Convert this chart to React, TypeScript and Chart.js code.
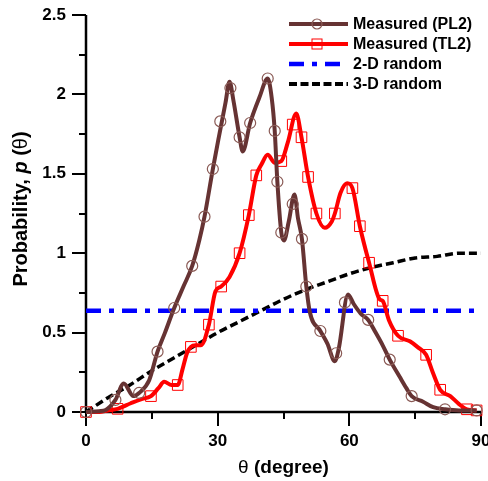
import React, { useEffect, useRef } from 'react';
import { Chart, registerables } from 'chart.js';

Chart.register(...registerables);

const FONT = 'Arial, "Liberation Sans", sans-serif';

// Measured (PL2) line
const pl2Theta = [0, 3, 4.5, 6.7, 8.6, 10.8, 12.1, 14.4, 16.3, 18, 20.1, 22.2, 24.2, 25.8, 27, 28.9, 30.4, 31.8, 32.7, 33.6, 35, 35.7, 37.4, 39.5, 41.4, 42.3, 43, 43.6, 44.5, 45.1, 46.2, 47.5, 48.3, 49.2, 50.2, 51, 53.4, 55, 56.7, 57.6, 59.7, 61, 62.6, 64.3, 66, 67.6, 69.2, 71.5, 73, 74.2, 76.8, 79.1, 81.8, 85, 89];
const pl2Prob = [0, 0.005, 0.013, 0.076, 0.18, 0.1, 0.12, 0.2, 0.38, 0.5, 0.655, 0.79, 0.92, 1.08, 1.23, 1.53, 1.75, 1.95, 2.08, 1.96, 1.73, 1.64, 1.82, 1.98, 2.1, 1.98, 1.77, 1.45, 1.13, 1.08, 1.2, 1.37, 1.22, 1.09, 0.79, 0.63, 0.51, 0.43, 0.32, 0.4, 0.74, 0.68, 0.62, 0.58, 0.5, 0.42, 0.33, 0.22, 0.15, 0.1, 0.065, 0.03, 0.017, 0.01, 0.01];
const pl2MarkTheta = [0, 6.7, 12.1, 16.3, 20.1, 24.2, 27, 28.9, 30.6, 32.9, 35, 37.4, 41.4, 43, 43.6, 44.5, 47.1, 49.2, 50.2, 53.4, 57, 59, 64.3, 69.2, 74.2, 81.8, 89];
const pl2MarkProb = [0, 0.076, 0.12, 0.38, 0.655, 0.92, 1.23, 1.53, 1.83, 2.04, 1.73, 1.82, 2.1, 1.77, 1.45, 1.13, 1.31, 1.09, 0.79, 0.51, 0.37, 0.69, 0.58, 0.33, 0.1, 0.017, 0.01];

// Measured (TL2) line
const tl2Theta = [0, 3, 5, 7.2, 10.2, 12.5, 14.8, 16.5, 17.8, 19.5, 20.9, 22, 23, 23.9, 25, 26.2, 28, 29.5, 30.8, 32.7, 35, 37.1, 38.8, 40, 41.4, 43, 44.5, 46, 47.9, 49.1, 50.6, 52.5, 54.4, 56, 56.7, 58, 59.5, 60.7, 62.4, 64.5, 66.9, 67.6, 69, 71.1, 73.8, 75.5, 77.5, 79, 80.7, 83, 85, 86.8, 89];
const tl2Prob = [0, 0, 0.01, 0.02, 0.055, 0.08, 0.1, 0.15, 0.19, 0.17, 0.17, 0.27, 0.37, 0.41, 0.42, 0.42, 0.55, 0.76, 0.79, 0.85, 1.0, 1.24, 1.49, 1.56, 1.62, 1.57, 1.58, 1.7, 1.88, 1.73, 1.48, 1.25, 1.16, 1.2, 1.25, 1.38, 1.44, 1.41, 1.17, 0.94, 0.71, 0.7, 0.58, 0.48, 0.445, 0.41, 0.36, 0.25, 0.14, 0.1, 0.05, 0.017, 0.01];
const tl2MarkTheta = [0, 7.2, 14.8, 20.9, 23.9, 28, 30.8, 35, 37.1, 38.8, 44.5, 47.1, 49.1, 50.6, 52.5, 56.7, 60.7, 62.4, 64.5, 67.6, 71.1, 77.5, 80.7, 86.8, 89];
const tl2MarkProb = [0, 0.02, 0.1, 0.17, 0.41, 0.55, 0.79, 1.0, 1.24, 1.49, 1.58, 1.81, 1.73, 1.48, 1.25, 1.25, 1.41, 1.17, 0.94, 0.7, 0.48, 0.36, 0.14, 0.017, 0.01];

// 2-D random
const rand2dTheta = [0, 88.5];
const rand2dProb = [0.637, 0.637];

// 3-D random
const rand3dTheta = [0, 5, 10, 15, 20, 25, 30, 35, 40, 45, 50, 55, 60, 65, 70, 75, 80, 85, 90];
const rand3dProb = [0, 0.09, 0.17, 0.26, 0.34, 0.42, 0.5, 0.57, 0.64, 0.71, 0.77, 0.82, 0.87, 0.91, 0.94, 0.97, 0.98, 1.0, 1.0];

const xTickValues = [0, 30, 60, 90];
const xTickLabels = ['0', '30', '60', '90'];
const xMinorValues = [15, 45, 75];
const yTickValues = [0, 0.5, 1, 1.5, 2, 2.5];
const yTickLabels = ['0', '0.5', '1', '1.5', '2', '2.5'];
const yMinorValues = [0.25, 0.75, 1.25, 1.75, 2.25];

const legendLabels = ['Measured (PL2)', 'Measured (TL2)', '2-D random', '3-D random'];

const BROWN = '#663333';
const BROWN_MARK = '#8a5a55';
const RED = '#ff0000';
const BLUE = '#0000ff';

const pts = (xs: number[], ys: number[]) => xs.map((x, i) => ({ x, y: ys[i] }));

const zeroPad = (s: any) => {
  s.paddingLeft = 0;
  s.paddingRight = 0;
  s.paddingTop = 0;
  s.paddingBottom = 0;
};

export default function App() {
  const ref = useRef<HTMLCanvasElement>(null);

  useEffect(() => {
    document.body.style.margin = '0';
    const canvas = ref.current!;
    const decor = {
      id: 'decor',
      beforeDatasetsDraw(chart: any) {
        const ctx = chart.ctx;
        const { left, right, top, bottom } = chart.chartArea;
        const xs = chart.scales.x;
        const ys = chart.scales.y;
        ctx.save();
        ctx.strokeStyle = '#000';
        ctx.lineWidth = 2.5;
        ctx.beginPath();
        ctx.moveTo(left, top);
        ctx.lineTo(left, bottom);
        ctx.lineTo(right, bottom);
        ctx.stroke();
        ctx.lineWidth = 2;
        ctx.beginPath();
        xTickValues.forEach((v) => {
          const p = Math.round(xs.getPixelForValue(v));
          ctx.moveTo(p, bottom);
          ctx.lineTo(p, bottom + 14);
        });
        xMinorValues.forEach((v) => {
          const p = Math.round(xs.getPixelForValue(v));
          ctx.moveTo(p, bottom);
          ctx.lineTo(p, bottom + 7);
        });
        yTickValues.forEach((v) => {
          const p = Math.round(ys.getPixelForValue(v));
          ctx.moveTo(left, p);
          ctx.lineTo(left - 14, p);
        });
        yMinorValues.forEach((v) => {
          const p = Math.round(ys.getPixelForValue(v));
          ctx.moveTo(left, p);
          ctx.lineTo(left - 7, p);
        });
        ctx.stroke();
        ctx.restore();
      },
      afterDraw(chart: any) {
        const ctx = chart.ctx;
        const { left, right } = chart.chartArea;
        ctx.save();
        ctx.fillStyle = '#000';
        ctx.textBaseline = 'middle';
        // x title
        const xParts = [
          { t: '\u03b8', f: `19px ${FONT}` },
          { t: ' (degree)', f: `bold 19px ${FONT}` },
        ];
        let w = 0;
        xParts.forEach((p) => { ctx.font = p.f; w += ctx.measureText(p.t).width; });
        let cx = (left + right) / 2 - w / 2;
        xParts.forEach((p) => {
          ctx.font = p.f;
          ctx.textAlign = 'left';
          ctx.fillText(p.t, cx, 468);
          cx += ctx.measureText(p.t).width;
        });
        // y title
        const yParts = [
          { t: 'Probability, ', f: `bold 20px ${FONT}` },
          { t: 'p', f: `italic bold 20px ${FONT}` },
          { t: ' (', f: `bold 20px ${FONT}` },
          { t: '\u03b8', f: `20px ${FONT}` },
          { t: ')', f: `bold 20px ${FONT}` },
        ];
        w = 0;
        yParts.forEach((p) => { ctx.font = p.f; w += ctx.measureText(p.t).width; });
        ctx.save();
        ctx.translate(21, 209);
        ctx.rotate(-Math.PI / 2);
        let cy = -w / 2;
        yParts.forEach((p) => {
          ctx.font = p.f;
          ctx.textAlign = 'left';
          ctx.fillText(p.t, cy, 0);
          cy += ctx.measureText(p.t).width;
        });
        ctx.restore();
        // legend
        const rows = [24, 44, 64, 84];
        const x0 = 289;
        const x1 = 348;
        const mx = 317;
        ctx.lineWidth = 4;
        ctx.strokeStyle = BROWN;
        ctx.beginPath(); ctx.moveTo(x0, rows[0]); ctx.lineTo(x1, rows[0]); ctx.stroke();
        ctx.lineWidth = 1.2;
        ctx.strokeStyle = BROWN_MARK;
        ctx.beginPath(); ctx.arc(mx, rows[0], 5, 0, Math.PI * 2); ctx.stroke();
        ctx.lineWidth = 4;
        ctx.strokeStyle = RED;
        ctx.beginPath(); ctx.moveTo(x0, rows[1]); ctx.lineTo(x1, rows[1]); ctx.stroke();
        ctx.lineWidth = 1;
        ctx.strokeRect(mx - 5, rows[1] - 5, 10, 10);
        ctx.lineWidth = 4.5;
        ctx.strokeStyle = BLUE;
        ctx.setLineDash([15, 8, 5, 8]);
        ctx.beginPath(); ctx.moveTo(x0, rows[2]); ctx.lineTo(x1, rows[2]); ctx.stroke();
        ctx.lineWidth = 4;
        ctx.strokeStyle = '#000';
        ctx.setLineDash([8, 3.5]);
        ctx.beginPath(); ctx.moveTo(x0, rows[3]); ctx.lineTo(x1, rows[3]); ctx.stroke();
        ctx.setLineDash([]);
        ctx.font = `bold 16px ${FONT}`;
        ctx.textAlign = 'left';
        ctx.fillStyle = '#000';
        legendLabels.forEach((l, i) => ctx.fillText(l, 353, rows[i] + 1));
        ctx.restore();
      },
    };

    const tickFont = { family: FONT, size: 17, weight: 'bold' as const };

    const chart = new Chart(canvas, {
      type: 'line',
      data: {
        datasets: [
          {
            label: 'pl2marks',
            data: pts(pl2MarkTheta, pl2MarkProb),
            showLine: false,
            pointStyle: 'circle',
            pointRadius: 5.5,
            pointBorderWidth: 1.2,
            pointBorderColor: BROWN_MARK,
            pointBackgroundColor: 'rgba(0,0,0,0)',
            clip: false,
          } as any,
          {
            label: 'Measured (PL2)',
            data: pts(pl2Theta, pl2Prob),
            borderColor: BROWN,
            borderWidth: 4,
            pointRadius: 0,
            cubicInterpolationMode: 'monotone',
            borderJoinStyle: 'round',
            clip: false,
          } as any,
          {
            label: 'tl2marks',
            data: pts(tl2MarkTheta, tl2MarkProb),
            showLine: false,
            pointStyle: 'rect',
            pointRadius: 7.5,
            pointBorderWidth: 1,
            pointBorderColor: RED,
            pointBackgroundColor: 'rgba(0,0,0,0)',
            clip: false,
          } as any,
          {
            label: 'Measured (TL2)',
            data: pts(tl2Theta, tl2Prob),
            borderColor: RED,
            borderWidth: 4,
            pointRadius: 0,
            cubicInterpolationMode: 'monotone',
            borderJoinStyle: 'round',
            clip: false,
          } as any,
          {
            label: '2-D random',
            data: pts(rand2dTheta, rand2dProb),
            borderColor: BLUE,
            borderWidth: 4.5,
            borderDash: [15, 8, 5, 8],
            pointRadius: 0,
            clip: false,
          } as any,
          {
            label: '3-D random',
            data: pts(rand3dTheta, rand3dProb),
            borderColor: '#000',
            borderWidth: 3.5,
            borderDash: [8, 4],
            pointRadius: 0,
            cubicInterpolationMode: 'monotone',
            clip: false,
          } as any,
        ],
      },
      options: {
        responsive: false,
        animation: false,
        events: [],
        layout: { padding: { top: 15, right: 7, left: 0, bottom: 0 }, autoPadding: false } as any,
        plugins: { legend: { display: false }, tooltip: { enabled: false } },
        scales: {
          x: {
            type: 'linear',
            min: 0,
            max: 90,
            afterFit: (s: any) => { s.height = 69; zeroPad(s); },
            afterBuildTicks: (s: any) => { s.ticks = xTickValues.map((v) => ({ value: v })); },
            grid: { display: false, drawTicks: false },
            border: { display: false },
            ticks: {
              padding: 19,
              color: '#000',
              font: tickFont,
              maxRotation: 0,
              autoSkip: false,
              callback: (v: any) => xTickLabels[xTickValues.indexOf(Number(v))] ?? '',
            },
          },
          y: {
            type: 'linear',
            min: 0,
            max: 2.5,
            afterFit: (s: any) => { s.width = 86; zeroPad(s); },
            afterBuildTicks: (s: any) => { s.ticks = yTickValues.map((v) => ({ value: v })); },
            grid: { display: false, drawTicks: false },
            border: { display: false },
            ticks: {
              padding: 20,
              color: '#000',
              font: tickFont,
              autoSkip: false,
              callback: (v: any) => yTickLabels[yTickValues.indexOf(Number(v))] ?? '',
            },
          },
        },
      },
      plugins: [decor],
    });
    return () => chart.destroy();
  }, []);

  return (
    <div style={{ width: 488, height: 481 }}>
      <canvas ref={ref} width={488} height={481} style={{ display: 'block' }} />
    </div>
  );
}
